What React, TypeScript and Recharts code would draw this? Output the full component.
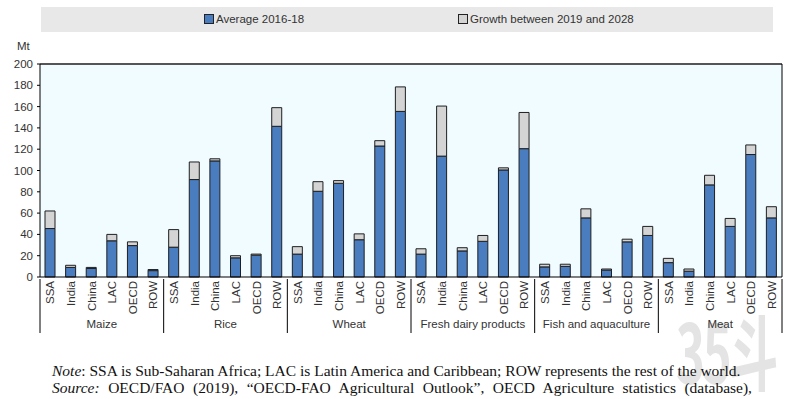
import React from 'react';
import { BarChart, Bar, XAxis, YAxis, CartesianGrid, ReferenceLine } from 'recharts';

const groups = ['Maize', 'Rice', 'Wheat', 'Fresh dairy products', 'Fish and aquaculture', 'Meat'];
const regions = ['SSA', 'India', 'China', 'LAC', 'OECD', 'ROW'];

// Average 2016-18 (Mt), one row per commodity, same order as regions
const average = [
  [45.5, 9, 8, 34, 29.5, 6],
  [28, 91.5, 109, 18, 20.5, 141.5],
  [21.5, 80.5, 88, 35, 123, 155.5],
  [21.5, 113.5, 24.5, 33.5, 100.5, 120.5],
  [9.5, 10, 55.5, 6.5, 33, 39],
  [13.5, 5.5, 86.5, 47.5, 115, 55.5],
];

// Growth between 2019 and 2028 (Mt)
const growth = [
  [16.5, 2, 1, 6, 3.5, 1],
  [16.5, 16.5, 2, 2, 1, 17.5],
  [7, 9, 2.5, 5.5, 5, 23],
  [5, 47, 3, 5.5, 2, 34],
  [2.5, 2, 8.5, 1, 2.5, 8.5],
  [4, 2, 9, 7.5, 9, 10.5],
];

const yTicks = [0, 20, 40, 60, 80, 100, 120, 140, 160, 180, 200];

const BLUE = '#4a7cc0';
const GREY = '#d4d4d4';
const FONT = '"Liberation Sans", Arial, sans-serif';

const data = groups.flatMap((g, gi) =>
  regions.map((r, ri) => ({
    key: `${g}|${r}`,
    group: g,
    region: r,
    average: average[gi][ri],
    growth: growth[gi][ri],
  }))
);

const MAIN_AXIS_H = 36;

const RegionTick = (props: any) => {
  const { x, y, payload } = props;
  const region = String(payload.value).split('|')[1];
  return (
    <text
      x={x}
      y={y + 2}
      transform={`rotate(-90 ${x} ${y + 2})`}
      textAnchor="end"
      dy="0.36em"
      fontSize={11.5}
      fontFamily={FONT}
      fill="#333"
    >
      {region}
    </text>
  );
};

const GroupTick = (props: any) => {
  const { x, y, payload, index } = props;
  const half = payload.offset ?? 0;
  const top = y - MAIN_AXIS_H;
  return (
    <g>
      <line x1={x - half} x2={x - half} y1={top} y2={y + 18} stroke="#000" strokeWidth={1} />
      {index === groups.length - 1 && (
        <line x1={x + half} x2={x + half} y1={top} y2={y + 18} stroke="#000" strokeWidth={1} />
      )}
      <text x={x} y={y + 9} textAnchor="middle" dy="0.35em" fontSize={11.5} fontFamily={FONT} fill="#333">
        {payload.value}
      </text>
    </g>
  );
};

const LegendBox = () => (
  <div
    style={{
      position: 'absolute', left: 41, top: 7, width: 732, height: 25, background: '#e8e8e8',
      fontFamily: FONT, fontSize: 11.5, color: '#333',
    }}
  >
    <div style={{ position: 'absolute', left: 163, top: 6, display: 'flex', alignItems: 'center' }}>
      <span style={{ width: 8, height: 8, background: BLUE, border: '1px solid #222', marginRight: 2 }} />
      Average 2016-18
    </div>
    <div style={{ position: 'absolute', left: 417, top: 6, display: 'flex', alignItems: 'center' }}>
      <span style={{ width: 8, height: 8, background: GREY, border: '1px solid #222', marginRight: 2 }} />
      Growth between 2019 and 2028
    </div>
  </div>
);

const App = () => {
  return (
    <div style={{ position: 'absolute', left: 0, top: 0, width: 795, height: 399, background: '#fff', overflow: 'hidden' }}>
      <div
        style={{
          position: 'absolute', left: 676, top: 304, fontSize: 82, fontWeight: 'bold', lineHeight: '90px',
          color: '#e4e4e4', fontFamily: '"Noto Sans CJK SC", sans-serif', letterSpacing: -4, whiteSpace: 'nowrap',
          transform: 'scaleX(0.6)', transformOrigin: 'left top',
        }}
      >
        35斗
      </div>
      <LegendBox />
      <div style={{ position: 'absolute', left: 17, top: 40, fontFamily: FONT, fontSize: 11.5, color: '#333' }}>Mt</div>
      <BarChart
        width={795}
        height={340}
        data={data}
        margin={{ top: 64, right: 12, bottom: 5, left: 0 }}
        barSize={10}
        style={{ position: 'absolute', left: 0, top: 0 }}
      >
        <CartesianGrid fill="#f0fcff" horizontal={false} vertical={false} />
        <XAxis
          dataKey="key"
          xAxisId={0}
          interval={0}
          height={MAIN_AXIS_H}
          tick={<RegionTick />}
          tickLine={false}
          tickSize={0}
          axisLine={{ stroke: '#000' }}
        />
        <XAxis
          dataKey="group"
          xAxisId="grp"
          allowDuplicatedCategory={false}
          interval={0}
          height={22}
          tick={<GroupTick />}
          tickLine={false}
          tickSize={0}
          axisLine={false}
        />
        <YAxis
          yAxisId={0}
          domain={[0, 200]}
          ticks={yTicks}
          width={40}
          tickSize={3}
          tickMargin={4}
          interval={0}
          axisLine={{ stroke: '#000' }}
          tickLine={{ stroke: '#000' }}
          tick={{ fontSize: 11.5, fontFamily: FONT, fill: '#333' }}
        />
        <YAxis
          yAxisId="r"
          orientation="right"
          domain={[0, 200]}
          width={1}
          tick={false}
          tickLine={false}
          axisLine={{ stroke: '#000' }}
        />
        <ReferenceLine y={200} yAxisId={0} stroke="#555" strokeWidth={2} />
        <Bar dataKey="average" stackId="a" fill={BLUE} stroke="#1f1f1f" strokeWidth={1} isAnimationActive={false} />
        <Bar dataKey="growth" stackId="a" fill={GREY} stroke="#1f1f1f" strokeWidth={1} isAnimationActive={false} />
      </BarChart>
      <div
        style={{
          position: 'absolute', left: 52, top: 362, width: 700,
          fontFamily: '"Liberation Serif", "Times New Roman", serif', fontSize: 15.5, lineHeight: '17px', color: '#111',
        }}
      >
        <div style={{ whiteSpace: 'nowrap' }}>
          <i>Note</i>: SSA is Sub-Saharan Africa; LAC is Latin America and Caribbean; ROW represents the rest of the world.
        </div>
        <div style={{ textAlign: 'justify', textAlignLast: 'justify' }}>
          <i>Source:</i> OECD/FAO (2019), “OECD-FAO Agricultural Outlook”, OECD Agriculture statistics (database),
        </div>
      </div>
    </div>
  );
};

export default App;
